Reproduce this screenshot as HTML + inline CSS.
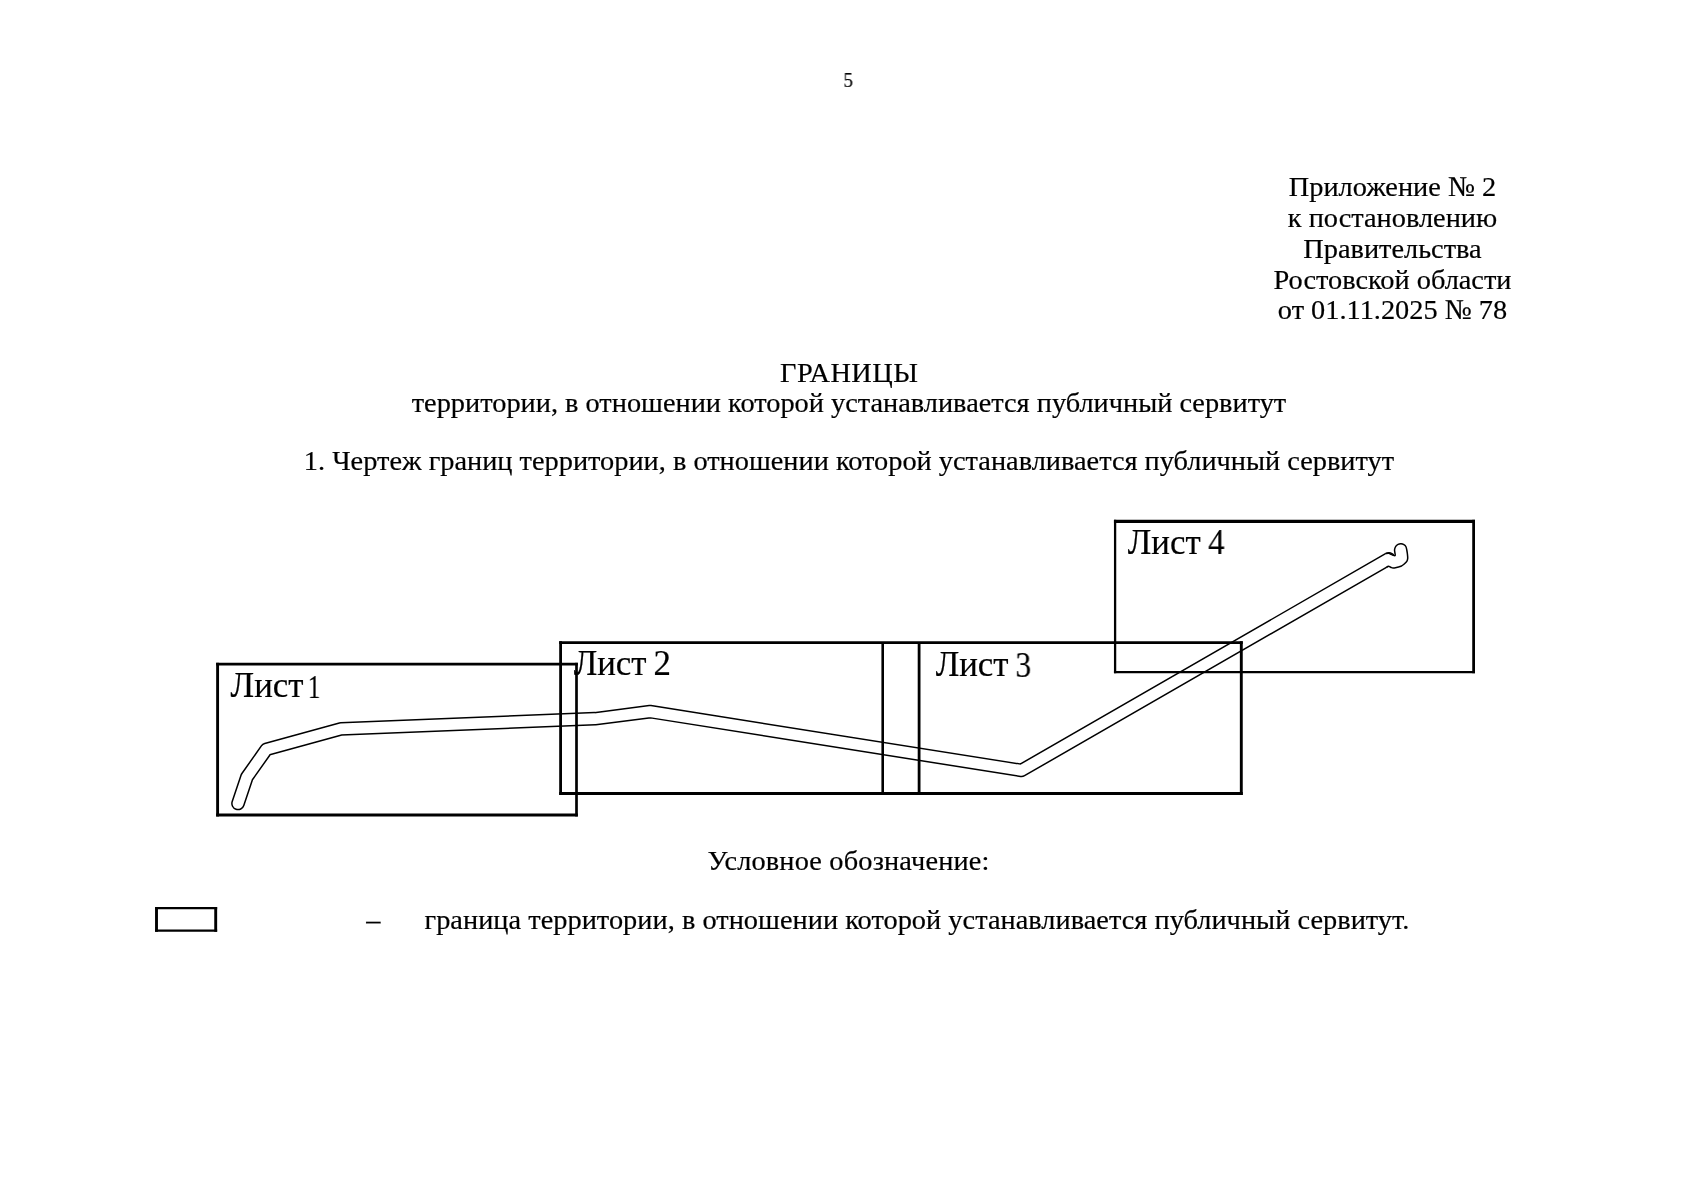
<!DOCTYPE html>
<html><head><meta charset="utf-8"><title>Приложение № 2</title>
<style>
html,body{margin:0;padding:0;background:#fff;}
body{width:1698px;height:1200px;position:relative;overflow:hidden;font-family:"Liberation Serif",serif;color:#000;}
.t{position:absolute;white-space:nowrap;will-change:transform;-webkit-text-stroke:0.2px #000;}
</style></head><body>
<svg width="1698" height="1200" viewBox="0 0 1698 1200" style="position:absolute;left:0;top:0">
<g fill="none">
<path d="M238.00,803.50 L246.90,777.00 L266.35,749.45 L341.00,728.90 L595.00,718.70 L650.00,711.60 L1021.50,770.40 L1389.00,558.75" stroke="#000" stroke-width="13.7" stroke-linejoin="round" stroke-linecap="round"/>
<path d="M238.00,803.50 L246.90,777.00 L266.35,749.45 L341.00,728.90 L595.00,718.70 L650.00,711.60 L1021.50,770.40 L1389.00,558.75" stroke="#fff" stroke-width="10.7" stroke-linejoin="round" stroke-linecap="round"/>
</g>
<path d="M1385.83,553.46 C1386.32,553.44 1387.88,553.16 1388.75,553.31 C1389.62,553.45 1390.40,554.01 1391.08,554.33 C1391.76,554.65 1392.15,554.99 1392.83,555.20 C1393.51,555.41 1394.83,556.04 1395.17,555.60 C1395.51,555.16 1394.97,553.57 1394.87,552.58 C1394.77,551.59 1394.43,550.69 1394.58,549.67 C1394.73,548.65 1395.17,547.34 1395.75,546.46 C1396.33,545.59 1397.20,544.86 1398.08,544.42 C1398.95,543.98 1400.03,543.78 1401.00,543.83 C1401.97,543.88 1403.08,544.22 1403.91,544.71 C1404.74,545.20 1405.47,545.83 1405.96,546.75 C1406.45,547.67 1406.59,549.03 1406.83,550.25 C1407.07,551.47 1407.27,552.68 1407.41,554.04 C1407.56,555.40 1407.80,557.19 1407.70,558.41 C1407.60,559.62 1407.46,560.36 1406.83,561.33 C1406.20,562.30 1404.88,563.42 1403.91,564.25 C1402.94,565.08 1402.07,565.80 1401.00,566.29 C1399.93,566.77 1398.81,566.87 1397.50,567.16 C1396.19,567.45 1394.19,567.99 1393.12,568.04 C1392.05,568.09 1391.86,567.77 1391.08,567.45 C1390.30,567.13 1389.27,566.16 1388.46,566.14 C1387.65,566.12 1386.58,567.11 1386.20,567.30" fill="#fff" stroke="#000" stroke-width="1.5" stroke-linejoin="round"/>
<g fill="none" stroke="#000" stroke-linecap="butt">
<line x1="217.6" y1="662.800" x2="217.6" y2="816.450" stroke-width="2.9"/><line x1="216.150" y1="664.1" x2="577.850" y2="664.1" stroke-width="2.6"/><line x1="576.5" y1="662.800" x2="576.5" y2="816.450" stroke-width="2.7"/><line x1="216.150" y1="815.0" x2="577.850" y2="815.0" stroke-width="2.9"/>
<line x1="560.6" y1="641.200" x2="560.6" y2="794.950" stroke-width="2.8"/><line x1="559.200" y1="642.6" x2="1242.750" y2="642.6" stroke-width="2.8"/><line x1="1241.3" y1="641.200" x2="1241.3" y2="794.950" stroke-width="2.9"/><line x1="559.200" y1="793.5" x2="1242.750" y2="793.5" stroke-width="2.9"/>
<line x1="882.7" y1="642.6" x2="882.7" y2="793.5" stroke-width="2.6"/><line x1="919.1" y1="642.6" x2="919.1" y2="793.5" stroke-width="2.8"/>
<line x1="1115.1" y1="519.800" x2="1115.1" y2="673.225" stroke-width="2.3"/><line x1="1113.950" y1="521.4" x2="1474.975" y2="521.4" stroke-width="3.2"/><line x1="1473.6" y1="519.800" x2="1473.6" y2="673.225" stroke-width="2.75"/><line x1="1113.950" y1="672.1" x2="1474.975" y2="672.1" stroke-width="2.25"/>
<line x1="156.5" y1="907.050" x2="156.5" y2="931.800" stroke-width="2.9"/><line x1="155.050" y1="908.2" x2="217.150" y2="908.2" stroke-width="2.3"/><line x1="215.7" y1="907.050" x2="215.7" y2="931.800" stroke-width="2.9"/><line x1="155.050" y1="930.6" x2="217.150" y2="930.6" stroke-width="2.4"/>

</g>
</svg>

<div class="t" style="top:70.31px;left:748px;width:200px;text-align:center;font-size:21px;line-height:21px;padding-left:0.20px;transform:scaleX(0.9);">5</div>
<div class="t" style="top:173.16px;left:1192px;width:400px;text-align:center;font-size:28.35px;line-height:28.35px;padding-left:0.50px;">Приложение № 2</div>
<div class="t" style="top:203.96px;left:1192px;width:400px;text-align:center;font-size:28.35px;line-height:28.35px;padding-left:0.50px;">к постановлению</div>
<div class="t" style="top:234.76px;left:1192px;width:400px;text-align:center;font-size:28.35px;line-height:28.35px;padding-left:0.50px;">Правительства</div>
<div class="t" style="top:265.56px;left:1192px;width:400px;text-align:center;font-size:28.35px;line-height:28.35px;padding-left:0.50px;">Ростовской области</div>
<div class="t" style="top:296.36px;left:1192px;width:400px;text-align:center;font-size:28.35px;line-height:28.35px;padding-left:0.50px;">от 01.11.2025 № 78</div>
<div class="t" style="top:358.76px;left:149px;width:1400px;text-align:center;font-size:28.35px;line-height:28.35px;padding-left:0.20px;letter-spacing:0.45px;">ГРАНИЦЫ</div>
<div class="t" style="top:389.16px;left:149px;width:1400px;text-align:center;font-size:28.35px;line-height:28.35px;padding-left:0.00px;">территории, в отношении которой устанавливается публичный сервитут</div>
<div class="t" style="top:446.56px;left:149px;width:1400px;text-align:center;font-size:28.35px;line-height:28.35px;padding-left:0.00px;">1. Чертеж границ территории, в отношении которой устанавливается публичный сервитут</div>
<div class="t" style="top:846.76px;left:148px;width:1400px;text-align:center;font-size:28.35px;line-height:28.35px;padding-left:0.60px;letter-spacing:0.17px;">Условное обозначение:</div>
<div class="t" style="top:905.66px;left:366px;font-size:28.35px;line-height:28.35px;padding-left:0.20px;">–</div>
<div class="t" style="top:905.66px;left:424px;font-size:28.35px;line-height:28.35px;padding-left:0.50px;letter-spacing:0.026px;">граница территории, в отношении которой устанавливается публичный сервитут.</div>
<div class="t" style="top:668.55px;left:230px;font-size:34.8px;line-height:34.8px;padding-left:0.55px;">Лист</div>
<div class="t" style="top:670.86px;left:305px;font-size:33.0px;line-height:33.0px;padding-left:0.75px;transform:scaleX(0.75);transform-origin:9.50px 50%;">1</div>
<div class="t" style="top:646.96px;left:573px;font-size:34.8px;line-height:34.8px;padding-left:0.65px;">Лист</div>
<div class="t" style="top:646.87px;left:653px;font-size:34.9px;line-height:34.9px;padding-left:0.60px;transform:scaleX(1.0);transform-origin:9.15px 50%;">2</div>
<div class="t" style="top:647.65px;left:935px;font-size:34.8px;line-height:34.8px;padding-left:0.65px;">Лист</div>
<div class="t" style="top:648.39px;left:1014px;font-size:35.0px;line-height:35.0px;padding-left:0.48px;transform:scaleX(0.9);transform-origin:9.40px 50%;">3</div>
<div class="t" style="top:525.65px;left:1127px;font-size:34.8px;line-height:34.8px;padding-left:0.75px;">Лист</div>
<div class="t" style="top:524.62px;left:1207px;font-size:35.2px;line-height:35.2px;padding-left:0.62px;transform:scaleX(0.94);transform-origin:9.60px 50%;">4</div>

</body></html>
